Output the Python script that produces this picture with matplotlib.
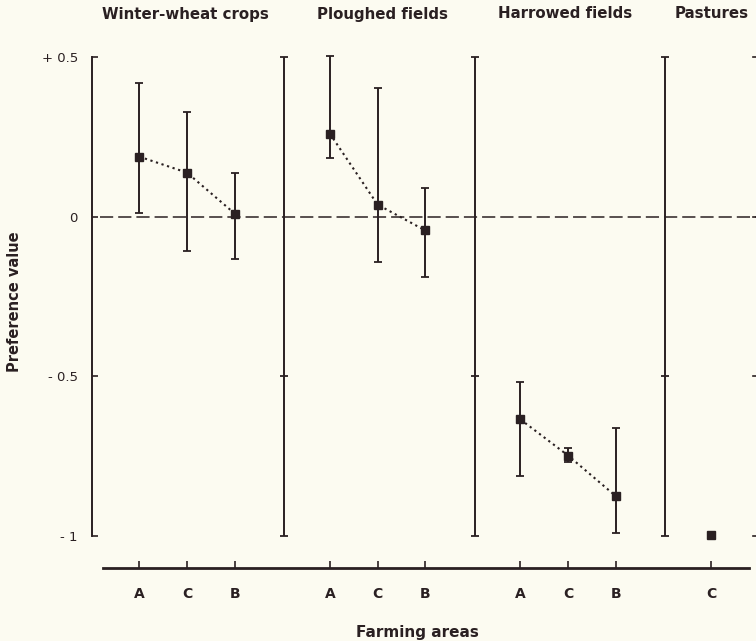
import matplotlib
matplotlib.use("Agg")
import matplotlib.pyplot as plt

# ---------------- data ----------------
groups = ["Winter-wheat crops", "Ploughed fields", "Harrowed fields", "Pastures"]
areas = [["A", "C", "B"], ["A", "C", "B"], ["A", "C", "B"], ["C"]]
values = [[0.188, 0.138, 0.010],
          [0.260, 0.038, -0.043],
          [-0.635, -0.748, -0.875],
          [-0.997]]
err_low = [[0.013, -0.106, -0.134],
           [0.184, -0.141, -0.189],
           [-0.812, -0.769, -0.992],
           [None]]
err_high = [[0.418, 0.329, 0.136],
            [0.504, 0.404, 0.089],
            [-0.518, -0.725, -0.661],
            [None]]
ytick_vals = [-1, -0.5, 0, 0.5]
ytick_labels = ["- 1", "- 0.5", "0", "+ 0.5"]

# ---------------- style ----------------
INK = "#2a2022"
BG = "#fcfbf1"
plt.rcParams["font.family"] = ["DejaVu Sans"]
plt.rcParams["lines.scale_dashes"] = False

W, H = 756, 641
fig = plt.figure(figsize=(W / 100, H / 100), dpi=100, facecolor=BG)

# pixel mapping: x=0 -> 91.7 px, 47.64 px/unit; y=0 -> 216.7 px, 319.3 px/unit
x0px, xs = 91.7, 47.64
y0px, ys = 216.7, 319.3
xlim = (-0.3, 14.2)
ylim = (-1.13, 0.55)
left = (x0px + xs * xlim[0]) / W
right = (x0px + xs * xlim[1]) / W
top = 1 - (y0px - ys * ylim[1]) / H
bottom = 1 - (y0px - ys * ylim[0]) / H
ax = fig.add_axes([left, bottom, right - left, top - bottom])
ax.set_facecolor(BG)
ax.set_xlim(*xlim)
ax.set_ylim(*ylim)

# spines
for s in ["top", "right"]:
    ax.spines[s].set_visible(False)
ax.spines["left"].set_position(("data", 0))
ax.spines["left"].set_bounds(-1, 0.5)
ax.spines["left"].set_color(INK)
ax.spines["left"].set_linewidth(1.4)
ax.spines["bottom"].set_position(("data", -1.10))
ax.spines["bottom"].set_bounds(0.23, 13.8)
ax.spines["bottom"].set_color(INK)
ax.spines["bottom"].set_linewidth(2.0)

ax.set_yticks(ytick_vals)
ax.set_yticklabels(ytick_labels)
ax.tick_params(axis="y", direction="in", length=4, width=1.2, color=INK,
               pad=10, labelsize=9.5, labelcolor=INK)

# x positions: groups separated by a gap of one unit
xpos = []
xlabels = []
pos = 1
separators = []
for g, ar in enumerate(areas):
    xs_g = list(range(pos, pos + len(ar)))
    xpos.append(xs_g)
    xlabels += ar
    pos += len(ar)
    if g < len(areas) - 1:
        separators.append(pos)
        pos += 1
flat_x = [x for xs_g in xpos for x in xs_g]
ax.set_xticks(flat_x)
ax.set_xticklabels(xlabels, fontweight="bold")
ax.tick_params(axis="x", direction="in", length=5, width=1.2, color=INK,
               pad=14, labelsize=10, labelcolor=INK)

# zero dashed line
ax.plot([0.18, 14.2], [0, 0], color=INK, lw=1.1, dashes=[9.5, 3.6], zorder=1)

# separators (range bars between groups)
for s in separators:
    sx = s + 0.04
    ax.vlines(sx, -1, 0.5, color=INK, lw=1.4, zorder=2)
    ax.plot([sx, sx, sx], [-1, -0.5, 0.5], ls="none", marker="_", ms=5.5,
            mew=1.3, color=INK, zorder=2)

# right edge ticks
for yv in ytick_vals:
    ax.plot([13.88, 14.2], [yv, yv], color=INK, lw=1.2, clip_on=False)

# data
for xs_g, v, lo, hi in zip(xpos, values, err_low, err_high):
    if len(v) > 1:
        ax.plot(xs_g, v, color=INK, lw=1.5, dashes=[1.6, 2.6], zorder=3)
    for x, vv, l, h in zip(xs_g, v, lo, hi):
        if l is not None:
            ax.errorbar([x], [vv], yerr=[[vv - l], [h - vv]], fmt="none",
                        ecolor=INK, elinewidth=1.4, capsize=3, capthick=1.3,
                        zorder=4)
        ax.plot([x], [vv], marker="s", ms=5.5, color=INK, ls="none", zorder=5)

# group titles
title_px = [185, 382, 565, 712]
for t, px in zip(groups, title_px):
    fig.text(px / W, 1 - 14 / H, t, ha="center", va="center",
             fontsize=10.8, fontweight="bold", color=INK)

fig.text(417 / W, 1 - 632 / H, "Farming areas", ha="center", va="center",
         fontsize=11, fontweight="bold", color=INK)
fig.text(15 / W, 1 - 302 / H, "Preference value", ha="center", va="center",
         rotation=90, fontsize=10.5, fontweight="bold", color=INK)

fig.savefig("out.png", dpi=100, facecolor=BG)
